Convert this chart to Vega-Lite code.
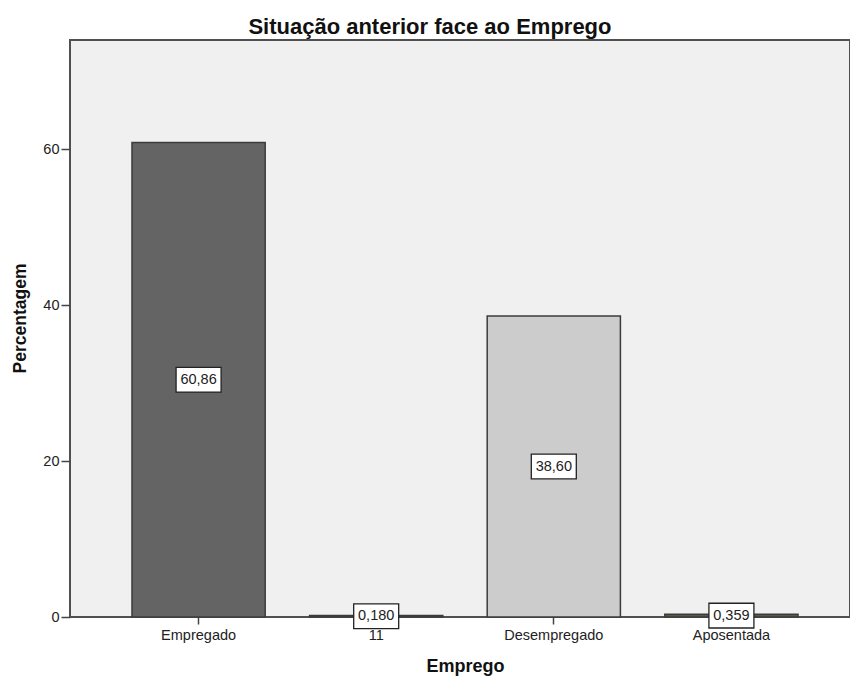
{
  "$schema": "https://vega.github.io/schema/vega-lite/v6.json",
  "width": 780,
  "height": 577,
  "autosize": {"type": "none"},
  "padding": {"left": 70, "top": 40, "right": 0, "bottom": 64},
  "background": "white",
  "config": {
    "font": "Liberation Sans",
    "view": {"fill": "#f0f0f0", "stroke": "#505050", "strokeWidth": 2}
  },
  "title": {
    "text": "Situação anterior face ao Emprego",
    "font": "Liberation Sans",
    "fontSize": 22,
    "fontWeight": "bold",
    "color": "#111111",
    "anchor": "middle",
    "frame": "bounds",
    "baseline": "alphabetic",
    "offset": 7,
    "dy": 23,
    "dx": -6
  },
  "data": {
    "values": [
      {"Emprego": "Empregado", "Percentagem": 60.86, "rotulo": "60,86"},
      {"Emprego": "11", "Percentagem": 0.180, "rotulo": "0,180"},
      {"Emprego": "Desempregado", "Percentagem": 38.60, "rotulo": "38,60"},
      {"Emprego": "Aposentada", "Percentagem": 0.359, "rotulo": "0,359"}
    ]
  },
  "transform": [{"calculate": "datum.Percentagem / 2", "as": "meio"}],
  "encoding": {
    "x": {
      "field": "Emprego",
      "type": "nominal",
      "sort": null,
      "scale": {"range": [0, 790], "paddingInner": 0.25, "paddingOuter": 0.349},
      "axis": {
        "title": "Emprego",
        "labelAngle": 0,
        "domain": false,
        "tickSize": 7,
        "tickColor": "#444444",
        "tickWidth": 1.5,
        "labelFontSize": 14.5,
        "labelColor": "#222222",
        "labelPadding": 4,
        "titleFontSize": 18,
        "titleFontWeight": "bold",
        "titleColor": "#111111",
        "titlePadding": 16
      }
    }
  },
  "layer": [
    {
      "mark": {"type": "bar", "stroke": "#3c3c3c", "strokeWidth": 1.5},
      "encoding": {
        "y": {
          "field": "Percentagem",
          "type": "quantitative",
          "scale": {"domain": [0, 74], "nice": false},
          "axis": {
            "title": "Percentagem",
            "values": [0, 20, 40, 60],
            "grid": false,
            "domain": false,
            "tickSize": 9,
            "tickColor": "#444444",
            "tickWidth": 1.5,
            "labelFontSize": 14.5,
            "labelColor": "#222222",
            "labelPadding": 2,
            "titleFontSize": 17.5,
            "titleFontWeight": "bold",
            "titleColor": "#111111",
            "titlePadding": 13,
            "titleY": 278
          }
        },
        "color": {
          "field": "Emprego",
          "type": "nominal",
          "scale": {
            "domain": ["Empregado", "11", "Desempregado", "Aposentada"],
            "range": ["#646464", "#111111", "#cccccc", "#5c5943"]
          },
          "legend": null
        }
      }
    },
    {
      "mark": {
        "type": "point",
        "shape": "M-1,-0.55H1V0.55H-1Z",
        "size": 2025,
        "filled": true,
        "fill": "white",
        "stroke": "#222222",
        "strokeWidth": 1.3,
        "opacity": 1
      },
      "encoding": {
        "y": {"field": "meio", "type": "quantitative"}
      }
    },
    {
      "mark": {"type": "text", "fontSize": 14.5, "color": "#222222", "baseline": "middle", "align": "center"},
      "encoding": {
        "y": {"field": "meio", "type": "quantitative"},
        "text": {"field": "rotulo"}
      }
    }
  ]
}
